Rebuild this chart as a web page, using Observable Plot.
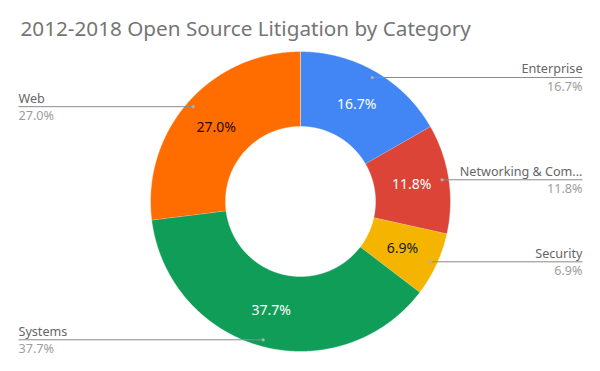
<!DOCTYPE html>
<html>
<head>
<meta charset="utf-8">
<script src="https://cdn.jsdelivr.net/npm/d3@7"></script>
<script src="https://cdn.jsdelivr.net/npm/@observablehq/plot@0.6"></script>
<style>
  html, body { margin: 0; padding: 0; background: #ffffff; }
  #chart { width: 600px; height: 371px; }
</style>
</head>
<body>
<div id="chart"></div>
<script>
// ---- data ----
const title = "2012-2018 Open Source Litigation by Category";
const categories = ["Enterprise", "Networking & Com...", "Security", "Systems", "Web"];
const shares = [16.7, 11.8, 6.9, 37.7, 27.0];
const shareLabels = ["16.7%", "11.8%", "6.9%", "37.7%", "27.0%"];

// ---- styles ----
const palette = ["#4285F4", "#DB4437", "#F4B400", "#0F9D58", "#FF6D00"];
const insideInk = ["#ffffff", "#ffffff", "#1a1a1a", "#ffffff", "#2a0a00"];
const font = "'Noto Sans', 'Open Sans', sans-serif";

// ---- geometry (unit radius donut, angle clockwise from 12 o'clock) ----
const outerR = 1, innerR = 0.5, labelR = 0.75, dotR = 0.955, edgeX = 1.88;
const total = d3.sum(shares);
let acc = 0;
const slices = categories.map((c, i) => {
  const a0 = acc / total * 2 * Math.PI;
  acc += shares[i];
  const a1 = acc / total * 2 * Math.PI;
  const mid = (a0 + a1) / 2;
  return {c, i, a0, a1, mid,
    lx: labelR * Math.sin(mid), ly: labelR * Math.cos(mid),
    dx: dotR * Math.sin(mid), dy: dotR * Math.cos(mid),
    side: Math.sin(mid) >= 0 ? 1 : -1};
});
const rightSlices = slices.filter(s => s.side > 0);
const leftSlices = slices.filter(s => s.side < 0);
const ring = slices.flatMap(s => {
  const n = Math.max(2, Math.ceil((s.a1 - s.a0) / (Math.PI / 360)));
  const pts = [];
  for (let k = 0; k <= n; k++) {
    const a = s.a0 + (s.a1 - s.a0) * k / n;
    pts.push({c: s.c, x: outerR * Math.sin(a), y: outerR * Math.cos(a)});
  }
  for (let k = n; k >= 0; k--) {
    const a = s.a0 + (s.a1 - s.a0) * k / n;
    pts.push({c: s.c, x: innerR * Math.sin(a), y: innerR * Math.cos(a)});
  }
  return pts;
});

const nameStyle = {y: "dy", text: "c", lineAnchor: "bottom", dy: -4, fontSize: 12.6, fill: "#666666"};
const valueStyle = {y: "dy", text: d => shareLabels[d.i], lineAnchor: "top", dy: 4.5, fontSize: 12.6, fill: "#9e9e9e"};

const chart = Plot.plot({
  width: 600,
  height: 371,
  margin: 0,
  x: {domain: [-2, 2], axis: null},
  y: {domain: [-170 / 150, 201 / 150], axis: null},
  color: {domain: categories, range: palette},
  style: {fontFamily: font, background: "#ffffff"},
  marks: [
    Plot.line(ring, {x: "x", y: "y", z: "c", fill: "c", stroke: "#ffffff", strokeWidth: 0.6, strokeOpacity: 0.7, curve: "linear"}),
    Plot.text(slices, {x: "lx", y: "ly", text: d => shareLabels[d.i], fill: d => insideInk[d.i], fontSize: 14, textAnchor: "middle", lineAnchor: "middle"}),
    Plot.link(slices, {x1: "dx", y1: "dy", x2: d => d.side * edgeX, y2: "dy", stroke: "#8a8a8a", strokeWidth: 1}),
    Plot.dot(slices, {x: "dx", y: "dy", r: 1.6, fill: "#b0b0b0", stroke: null}),
    Plot.text(rightSlices, {...nameStyle, x: () => edgeX, textAnchor: "end"}),
    Plot.text(rightSlices, {...valueStyle, x: () => edgeX, textAnchor: "end"}),
    Plot.text(leftSlices, {...nameStyle, x: () => -edgeX, textAnchor: "start"}),
    Plot.text(leftSlices, {...valueStyle, x: () => -edgeX, textAnchor: "start"}),
    Plot.text([title], {frameAnchor: "top-left", text: d => d, dx: 20, dy: 35, lineAnchor: "bottom", textAnchor: "start", fontSize: 20.7, fill: "#757575"})
  ]
});
document.getElementById("chart").appendChild(chart);
</script>
</body>
</html>
